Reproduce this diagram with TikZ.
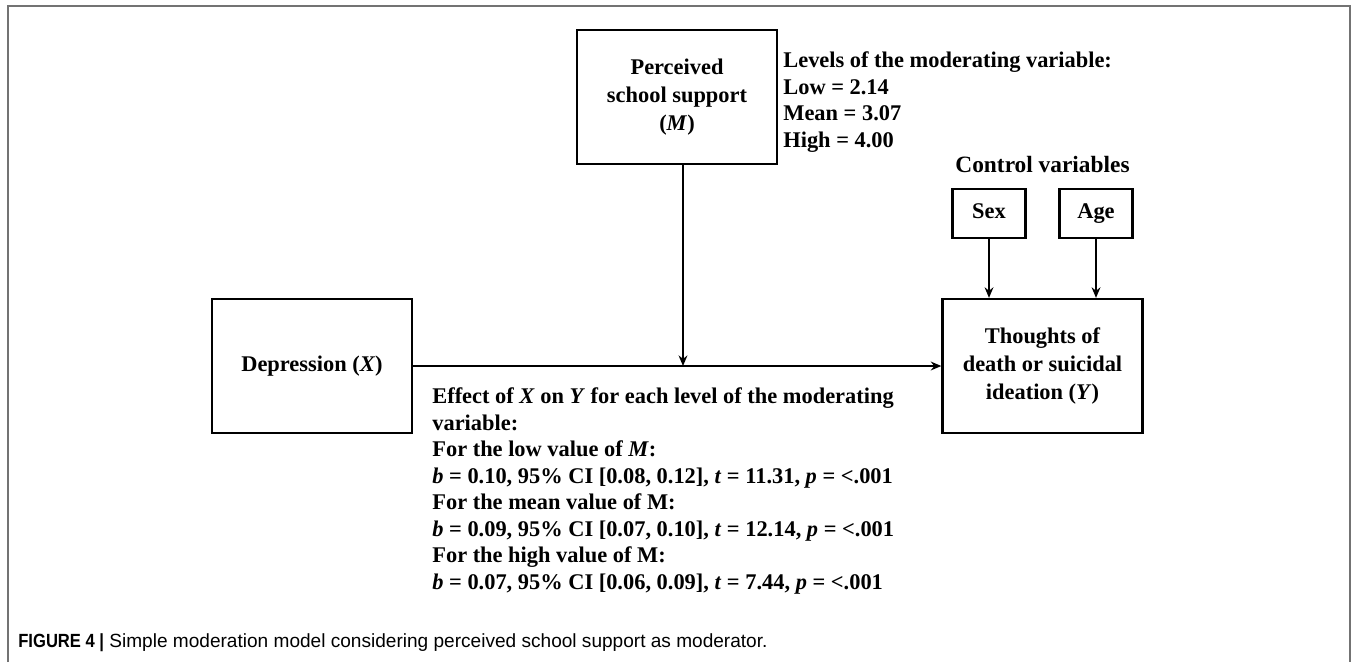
\documentclass[tikz,border=0pt]{standalone}
\usepackage{fontspec}
\setmainfont{Liberation Serif}
\newfontfamily\capfont{Liberation Sans}
\newfontfamily\capbold[FakeStretch=0.87]{Liberation Sans}
\usetikzlibrary{
	arrows.meta,
	positioning
}

\begin{document}
\begin{tikzpicture}[>={Stealth[length=6pt,width=5pt]},
		font=\fontsize{12.75}{15.1}\selectfont\bfseries,
		box/.style={draw,line width=1.3pt,align=center,inner sep=2pt,
			font=\fontsize{12.75}{16}\selectfont\bfseries},
		ctrlbox/.style={box,minimum width=1.46cm,minimum height=0.98cm,
			text height=9pt,text depth=3pt},
		link/.style={->,line width=1pt},
		note/.style={align=left,inner sep=0pt}]
		
		\useasboundingbox (0,0) rectangle (27.14,-13.24);
		
		%---------------- Frame ----------------%
		
		\draw[line width=1pt,black!55] (0.16,-13.24) |- (27.0,-0.12) -- (27.0,-13.24);
		
		%---------------- Model ----------------%
		
		\node[box,minimum width=4cm,minimum height=2.68cm] (M) at (13.54,-1.94)
		{Perceived\\school support\\(\textit{M})};
		
		\node[box,minimum width=4cm,minimum height=2.68cm] (X) at (6.24,-7.32)
		{Depression (\textit{X})};
		
		\node[box,minimum width=4cm,minimum height=2.68cm] (Y) at (20.85,-7.32)
		{Thoughts of\\death or suicidal\\ideation (\textit{Y})};
		
		\node[ctrlbox] (sex) at (19.78,-4.27) {Sex};
		
		\node[ctrlbox] (age) at (21.92,-4.27) {Age};
		
		\node[anchor=base,font=\fontsize{13.3}{15}\selectfont\bfseries] (ctrl) at (20.85,-3.44)
		{Control variables};
		
		\coordinate (join) at (13.66,-7.32);
		
		\draw[link] (X) -- (Y);
		\draw[link] (M.south -| join) -- (join);
		\draw[link] (sex) -- (sex |- Y.north);
		\draw[link] (age) -- (age |- Y.north);
		
		%---------------- Notes ----------------%
		
		\node[note,anchor=north west] (levels) at (15.66,-1.03)
		{Levels of the moderating variable:\\
			Low = 2.14\\
			Mean = 3.07\\
			High = 4.00};
		
		\node[note,anchor=north west] (effect) at (8.64,-7.75)
		{Effect of \textit{X} on \textit{Y} for each level of the moderating\\
			variable:\\
			For the low value of \textit{M}:\\
			\textit{b} = 0.10, 95\% CI [0.08, 0.12], \textit{t} = 11.31, \textit{p} = <.001\\
			For the mean value of M:\\
			\textit{b} = 0.09, 95\% CI [0.07, 0.10], \textit{t} = 12.14, \textit{p} = <.001\\
			For the high value of M:\\
			\textit{b} = 0.07, 95\% CI [0.06, 0.09], \textit{t} = 7.44, \textit{p} = <.001};
		
		%---------------- Caption ----------------%
		
		\node[anchor=base west,inner sep=0pt,font=\capfont\fontsize{10.85}{12}\selectfont] (cap) at (0.36,-12.94)
		{{\capbold\bfseries FIGURE 4 |} Simple moderation model considering perceived school support as moderator.};
		
	\end{tikzpicture}
\end{document}
